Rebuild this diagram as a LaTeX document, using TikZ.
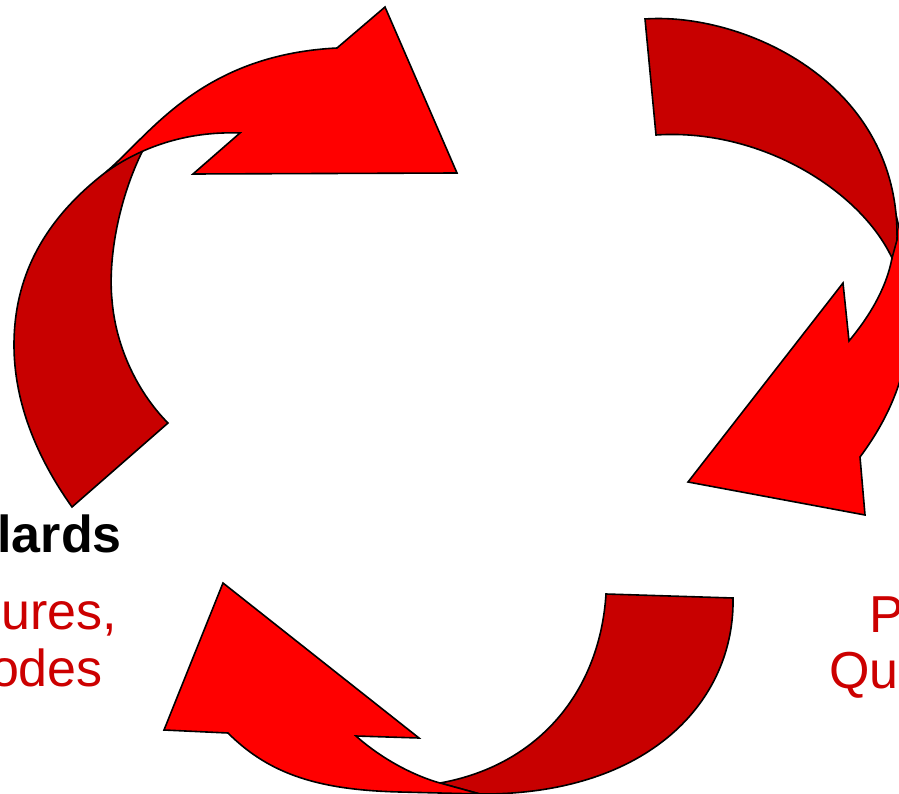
\documentclass[tikz,border=0pt]{standalone}
\usepackage{fontspec}
\setmainfont{Liberation Sans}
\definecolor{backred}{RGB}{200,0,0}
\definecolor{frontred}{RGB}{255,0,0}
\definecolor{textred}{RGB}{204,0,0}
\tikzset{
  backpart/.style={fill=backred, draw=black, line width=1.6pt, line join=miter},
  frontpart/.style={fill=frontred, draw=black, line width=1.6pt, line join=miter},
  lbl/.style={inner sep=0pt, font=\fontsize{52}{62}\selectfont},
}
\begin{document}
\begin{tikzpicture}[x=1pt,y=-1pt]
\useasboundingbox (0,0) rectangle (899,794);
\begin{scope}
\clip (0,0) rectangle (899,794);
% ---- top-left arrow ----
\draw[backpart] (72,507) .. controls (35,455) and (14,400) .. (14,345)
  .. controls (14,270) and (50,215) .. (106,172)
  .. controls (118,163) and (130,156) .. (143,150)
  .. controls (118,200) and (108,260) .. (112,300)
  .. controls (116,350) and (140,395) .. (168,423) -- cycle;
\draw[frontpart] (106,172) .. controls (150,135) and (200,55) .. (337,48)
  -- (385,7) -- (457,173) -- (193,174) -- (240,133)
  .. controls (185,131) and (140,148) .. (106,172) -- cycle;
% ---- right arrow ----
\draw[frontpart] (896,215) .. controls (915,290) and (925,370) .. (860,457)
  -- (865,515) -- (688,482) -- (843,283) -- (849,341)
  .. controls (868,318) and (886,290) .. (892,258) -- cycle;
\draw[backpart] (645,19) .. controls (740,12) and (900,80) .. (897,240)
  -- (892,258)
  .. controls (860,190) and (760,128) .. (656,135) -- cycle;
% ---- bottom arrow ----
\draw[backpart] (606,594) -- (733,598)
  .. controls (735,700) and (650,795) .. (480,794)
  -- (440,783)
  .. controls (540,765) and (600,690) .. (606,594) -- cycle;
\draw[frontpart] (480,794) -- (440,783)
  .. controls (415,776) and (383,760) .. (356,736)
  -- (419,738) -- (223,583) -- (164,730) -- (228,733)
  .. controls (270,775) and (320,790) .. (400,792) -- cycle;
\end{scope}
% ---- labels ----
\node[lbl, anchor=base east, font=\fontsize{52}{62}\selectfont\bfseries] (std) at (122,552) {lards};
\node[lbl, anchor=base east, text=textred] (proc1) at (117,629) {ures,};
\node[lbl, anchor=base east, text=textred] (proc2) at (103,686) {odes};
\node[lbl, anchor=base west, text=textred] (pol1) at (869,632) {P};
\node[lbl, anchor=base west, text=textred] (pol2) at (829,688) {Qu};
\end{tikzpicture}
\end{document}
